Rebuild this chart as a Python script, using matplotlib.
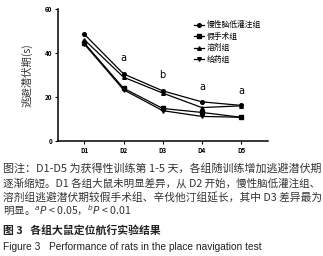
import matplotlib.pyplot as plt

plt.rcParams['font.family'] = ['Noto Sans CJK SC', 'DejaVu Sans']

# 数据
days = ["D1", "D2", "D3", "D4", "D5"]
x = [1, 2, 3, 4, 5]
chronic = [48.5, 30.5, 22.8, 17.8, 16.2]   # 慢性脑低灌注组
sham = [44.5, 24.0, 14.8, 13.0, 10.8]      # 假手术组
solvent = [46.0, 29.0, 21.8, 15.2, 16.0]   # 溶剂组
drug = [44.0, 23.3, 13.8, 11.2, 10.8]      # 给药组
labels = ["慢性脑低灌注组", "假手术组", "溶剂组", "给药组"]
sig_marks = ["a", "b", "a", "a"]
sig_x = [2, 3, 4, 5]
sig_y = [35.5, 27.7, 22.3, 20.5]

caption = [
    "图注：D1-D5 为获得性训练第 1-5 天，各组随训练增加逃避潜伏期",
    "逐渐缩短。D1 各组大鼠未明显差异，从 D2 开始，慢性脑低灌注组、",
    "溶剂组逃避潜伏期较假手术组、辛伐他汀组延长，其中 D3 差异最为",
    "明显。$^a$$\\it{P}$ < 0.05，$^b$$\\it{P}$ < 0.01",
]

fig = plt.figure(figsize=(3.23, 2.56), dpi=100)
ax = fig.add_axes([0.18, 0.449, 0.65, 0.516])

markers = ["o", "s", "^", "v"]
for ys, m, lab in zip([chronic, sham, solvent, drug], markers, labels):
    ax.plot(x, ys, color="black", lw=0.9, marker=m, ms=2.6, label=lab)

for s, sx, sy in zip(sig_marks, sig_x, sig_y):
    ax.text(sx, sy, s, ha="center", va="bottom", fontsize=7, family="DejaVu Sans")

ax.set_xlim(0.33, 5.69)
ax.set_ylim(0, 60)
ax.set_yticks([0, 20, 40, 60])
ax.set_xticks(x)
ax.set_xticklabels(days)
ax.tick_params(labelsize=4.5, length=2, width=0.8, pad=2)
for t in ax.get_xticklabels() + ax.get_yticklabels():
    t.set_fontweight("bold")
ax.spines["top"].set_visible(False)
ax.spines["right"].set_visible(False)
ax.spines["left"].set_linewidth(1.1)
ax.spines["bottom"].set_linewidth(1.1)
ax.set_ylabel("逃避潜伏期(s)", fontsize=7.5, labelpad=9, color="#333333")

ax.legend(loc="upper right", bbox_to_anchor=(1.0, 0.96), fontsize=5.6, frameon=False,
          handlelength=1.3, labelspacing=0.45, handletextpad=0.4)

# 图注，两端对齐
ys_cap = [168, 183, 197, 211]
renderer = fig.canvas.get_renderer()
for i, (line, yp) in enumerate(zip(caption, ys_cap)):
    t = fig.text(3 / 323, 1 - yp / 256, line, fontsize=7.6, color="#333333", va="center", ha="left")
    if i < 3:
        w = t.get_window_extent(renderer).width
        t.set_fontsize(7.6 * 317 / w)
fig.text(3 / 323, 1 - 230 / 256, "图 3   各组大鼠定位航行实验结果", fontsize=7.8,
         color="#222222", va="center", fontweight="bold")
fig.text(3 / 323, 1 - 247 / 256, "Figure 3   Performance of rats in the place navigation test",
         fontsize=7.3, color="#222222", va="center", family=["Liberation Sans", "DejaVu Sans"])

fig.savefig("out.png", dpi=100)
